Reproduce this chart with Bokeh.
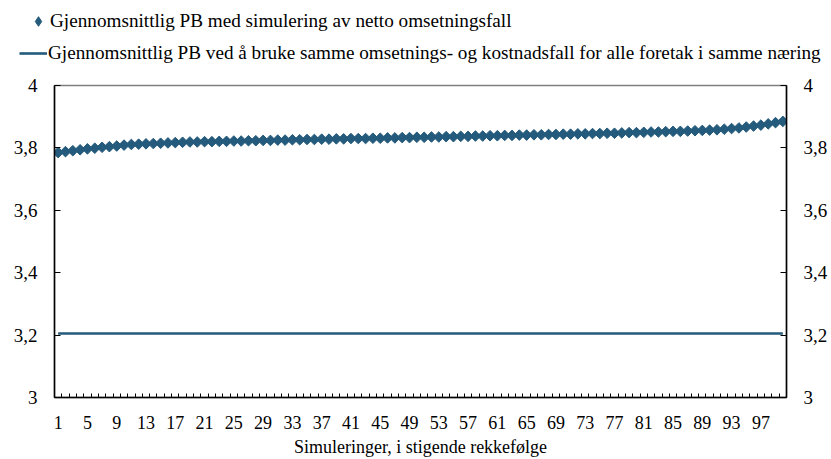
import math
from bokeh.plotting import figure
from bokeh.layouts import column
from bokeh.models import (Range1d, LinearAxis, FixedTicker, CustomJSTickFormatter,
                          Legend, LegendItem, ColumnDataSource)
from bokeh.embed import file_html
from bokeh.resources import INLINE

# ---- data ----
simulations = list(range(1, 101))
pb_simulated = [
    3.785, 3.788, 3.791, 3.794, 3.797, 3.799, 3.802, 3.804, 3.806, 3.809,
    3.811, 3.812, 3.813, 3.814, 3.815, 3.816, 3.817, 3.818, 3.819, 3.819,
    3.820, 3.820, 3.821, 3.821, 3.822, 3.822, 3.823, 3.823, 3.824, 3.824,
    3.825, 3.825, 3.826, 3.826, 3.827, 3.827, 3.828, 3.828, 3.829, 3.829,
    3.830, 3.830, 3.830, 3.831, 3.831, 3.832, 3.832, 3.833, 3.833, 3.834,
    3.834, 3.835, 3.835, 3.836, 3.836, 3.837, 3.837, 3.838, 3.838, 3.839,
    3.839, 3.840, 3.840, 3.841, 3.841, 3.842, 3.842, 3.843, 3.843, 3.844,
    3.844, 3.845, 3.845, 3.846, 3.846, 3.847, 3.847, 3.848, 3.849, 3.849,
    3.850, 3.851, 3.851, 3.852, 3.853, 3.853, 3.854, 3.855, 3.856, 3.857,
    3.858, 3.860, 3.862, 3.864, 3.867, 3.870, 3.873, 3.877, 3.881, 3.885,
]
pb_same_fall = [3.205] * 100
x_tick_labels = simulations[::4]
y_ticks = [3.0, 3.2, 3.4, 3.6, 3.8, 4.0]

label_sim = "Gjennomsnittlig PB med simulering av netto omsetningsfall"
label_same = "Gjennomsnittlig PB ved å bruke samme omsetnings- og kostnadsfall for alle foretak i samme næring"
x_title = "Simuleringer, i stigende rekkefølge"

COLOR = "#245A7B"
FONT = "Liberation Serif"

# ---- main chart ----
src = ColumnDataSource(dict(x=simulations, sim=pb_simulated, same=pb_same_fall))

p = figure(frame_width=732, frame_height=312,
           x_range=Range1d(0.5, len(simulations) + 0.5), y_range=Range1d(3, 4),
           output_backend="svg", toolbar_location=None,
           x_axis_location=None, y_axis_location=None,
           min_border_left=54, min_border_right=45, min_border_top=10, min_border_bottom=62)
p.grid.visible = False
p.outline_line_color = "#7f7f7f"
p.outline_line_width = 1.5

line_r = p.line("x", "same", source=src, line_width=2.6, line_color=COLOR)
sc_r = p.scatter("x", "sim", source=src, marker="square", angle=math.pi / 4, size=7.5,
                 fill_color=COLOR, line_color=COLOR)

fmt = CustomJSTickFormatter(code="return (Math.round(tick*10)/10).toString().replace('.', ',');")

def style_y(ax):
    ax.ticker = FixedTicker(ticks=y_ticks, minor_ticks=[])
    ax.formatter = fmt
    ax.major_tick_in = 6
    ax.major_tick_out = 0
    ax.axis_line_color = "black"
    ax.axis_line_width = 1.5
    ax.major_tick_line_color = "black"
    ax.major_label_text_font = FONT
    ax.major_label_text_font_size = "19px"
    ax.major_label_text_color = "black"
    ax.major_label_standoff = 17

yl = LinearAxis()
style_y(yl)
p.add_layout(yl, "left")
yr = LinearAxis()
style_y(yr)
p.add_layout(yr, "right")

xa = LinearAxis(ticker=FixedTicker(ticks=x_tick_labels,
                                   minor_ticks=[i + 0.5 for i in range(0, len(simulations) + 1)]),
                axis_label=x_title)
xa.major_tick_line_color = None
xa.minor_tick_in = 4
xa.minor_tick_out = 0
xa.minor_tick_line_color = "black"
xa.axis_line_color = "black"
xa.axis_line_width = 1.5
xa.major_label_text_font = FONT
xa.major_label_text_font_size = "18px"
xa.major_label_text_color = "black"
xa.major_label_standoff = 12
xa.axis_label_text_font = FONT
xa.axis_label_text_font_size = "18px"
xa.axis_label_text_font_style = "normal"
xa.axis_label_text_color = "black"
xa.axis_label_standoff = 5
p.add_layout(xa, "below")

# ---- legend strip above the chart (same data, out of view) ----
lg = figure(frame_width=831, frame_height=75, x_range=Range1d(0, 0.1), y_range=Range1d(0, 0.1),
            output_backend="svg", toolbar_location=None,
            x_axis_location=None, y_axis_location=None,
            min_border_left=0, min_border_right=0, min_border_top=0, min_border_bottom=0)
lg.grid.visible = False
lg.outline_line_color = None
key_sc = lg.scatter("x", "sim", source=src, marker="diamond", size=10,
                    fill_color=COLOR, line_color=COLOR)
key_ln = lg.line("x", "same", source=src, line_width=2.6, line_color=COLOR)

def make_legend(item, loc, gw, standoff):
    return Legend(items=[item], location=loc, glyph_width=gw, glyph_height=24,
                  label_standoff=standoff, padding=0, margin=0, spacing=0,
                  border_line_color=None, background_fill_alpha=0,
                  label_text_font=FONT, label_text_font_size="19.2px",
                  label_text_color="black", label_height=24)

lg.add_layout(make_legend(LegendItem(label=label_sim, renderers=[key_sc]), (26, 42), 24, 0))
lg.add_layout(make_legend(LegendItem(label=label_same, renderers=[key_ln]), (19, 10), 28, 1))

layout = column(lg, p, spacing=0)
open("out.html", "w").write(file_html(layout, INLINE))
